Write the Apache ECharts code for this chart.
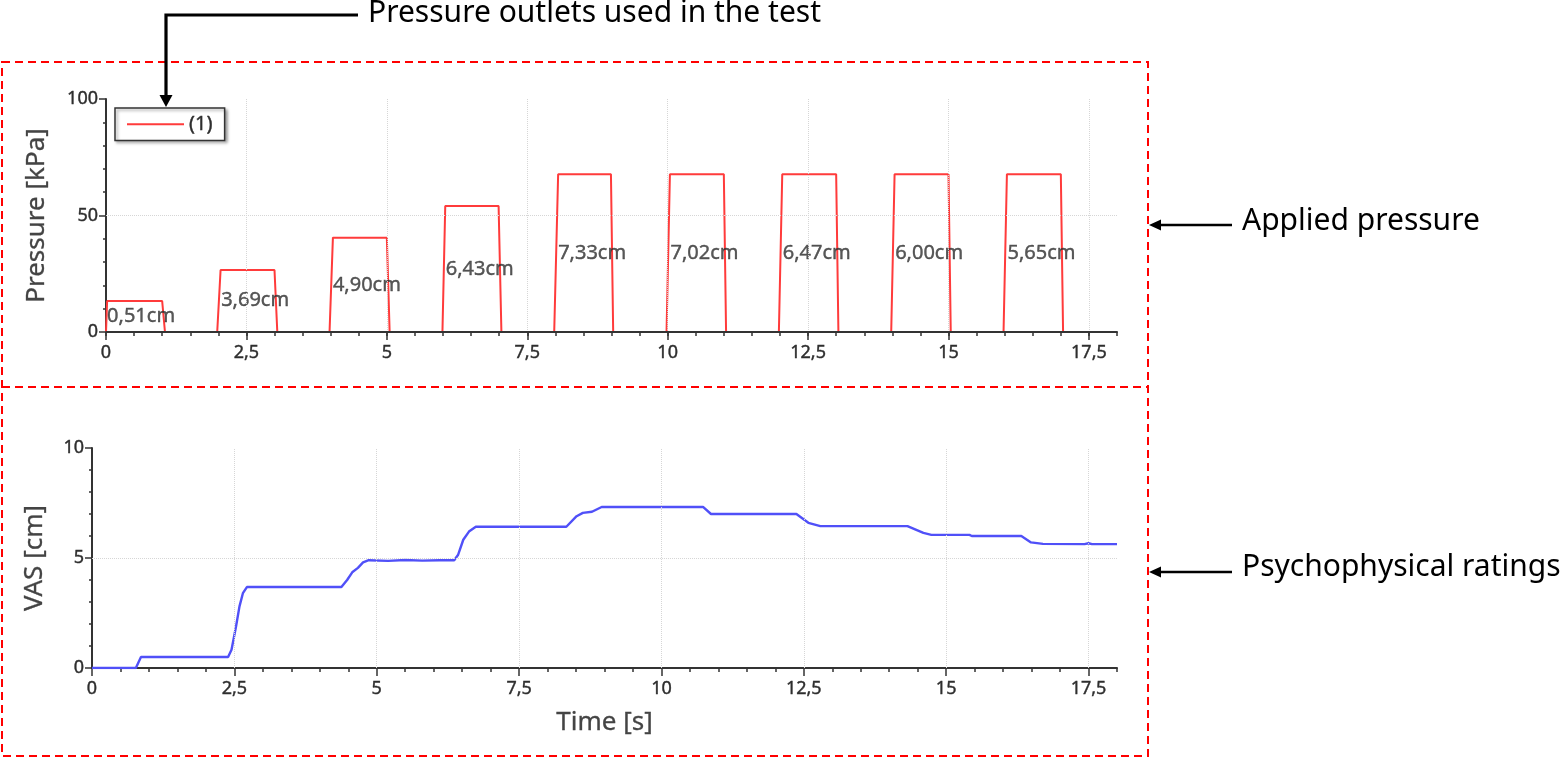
<!DOCTYPE html>
<html>
<head>
<meta charset="utf-8">
<title>Applied pressure and VAS ratings</title>
<script src="https://cdn.jsdelivr.net/npm/echarts@6/dist/echarts.min.js"></script>
<style>
  html, body { margin: 0; padding: 0; background: #fff; }
  #chart { width: 1563px; height: 758px; }
</style>
</head>
<body>
<div id="chart"></div>
<script>
// applied pressure, outlet (1)
var pressTime = [0, 0.02, 1.0, 1.05,
                 1.98, 2.04, 3.0, 3.05,
                 3.98, 4.04, 5.0, 5.05,
                 5.99, 6.04, 6.99, 7.04,
                 7.98, 8.05, 8.99, 9.03,
                 9.98, 10.04, 11.0, 11.04,
                 11.98, 12.04, 13.0, 13.04,
                 13.98, 14.04, 15.0, 15.04,
                 15.98, 16.04, 17.0, 17.04];
var pressKPa = [0, 13.3, 13.3, 0,
                0, 26.6, 26.6, 0,
                0, 40.5, 40.5, 0,
                0, 54.1, 54.1, 0,
                0, 67.7, 67.7, 0,
                0, 67.7, 67.7, 0,
                0, 67.7, 67.7, 0,
                0, 67.7, 67.7, 0,
                0, 67.7, 67.7, 0];

// VAS value written inside each pulse
var labelTime = [0.02, 2.05, 4.04, 6.05, 8.05, 10.05, 12.05, 14.05, 16.05];
var labelKPa = [6.6, 13.4, 20.2, 27, 33.8, 33.8, 33.8, 33.8, 33.8];
var labelText = ['0,51cm', '3,69cm', '4,90cm', '6,43cm', '7,33cm', '7,02cm', '6,47cm', '6,00cm', '5,65cm'];

// psychophysical rating
var vasTime = [0, 0.77, 0.86, 2.39, 2.45, 2.53, 2.59, 2.65, 2.72,
               4.38, 4.48, 4.57, 4.67, 4.76, 4.86, 5.2, 5.5, 5.8, 6.1, 6.36,
               6.43, 6.52, 6.62, 6.74, 8.33, 8.51, 8.62, 8.78, 8.95,
               10.73, 10.87, 12.37, 12.58, 12.79, 14.32, 14.6, 14.74,
               15.41, 15.45, 16.32, 16.49, 16.7, 17.43, 17.5, 17.56, 18.0];
var vasCm = [0, 0, 0.5, 0.5, 0.83, 1.9, 2.8, 3.4, 3.68,
             3.68, 4.0, 4.35, 4.55, 4.8, 4.9, 4.87, 4.91, 4.88, 4.9, 4.9,
             5.15, 5.83, 6.2, 6.42, 6.42, 6.9, 7.05, 7.1, 7.32,
             7.32, 7.0, 7.0, 6.6, 6.45, 6.45, 6.14, 6.05,
             6.05, 6.0, 6.0, 5.71, 5.64, 5.63, 5.67, 5.63, 5.63];

var majorTicks = [0, 2.5, 5, 7.5, 10, 12.5, 15, 17.5];
var pressGrid = [50];
var vasGrid = [5];

var chartFont = 'Noto Sans';
var noteFont = '30px "Noto Sans"';
var axisColor = '#333';
var textColor = '#2e2e2e';
var gridStyle = { color: '#d6d6d6', type: 'dotted', width: 1 };

function comma(v) {
    return String(v).replace('.', ',');
}

function pairs(xs, ys) {
    return xs.map(function (x, i) { return [x, ys[i]]; });
}

// dotted grid, only at the inner major ticks
function gridLines(yVals) {
    var d = [];
    majorTicks.forEach(function (v) { if (v > 0) d.push({ xAxis: v }); });
    yVals.forEach(function (v) { d.push({ yAxis: v }); });
    return {
        silent: true, symbol: 'none', animation: false,
        label: { show: false }, lineStyle: gridStyle,
        emphasis: { disabled: true }, data: d
    };
}

// axis with the short ticks every 0.5 s
function minorX(grid, z) {
    return {
        type: 'value', gridIndex: grid, position: 'bottom',
        min: 0, max: 18, interval: 0.5, z: z,
        axisLine: { lineStyle: { color: axisColor, width: 2 } },
        axisTick: { length: 4, lineStyle: { color: axisColor, width: 1.5 } },
        axisLabel: { show: false },
        splitLine: { show: false }
    };
}

// overlay axis with the long ticks and labels
function majorX(grid, extra) {
    var ax = {
        type: 'value', gridIndex: grid, position: 'bottom',
        min: 0, max: 18, interval: 2.5, z: 0,
        axisLine: { show: false },
        axisTick: { show: true, length: 8, customValues: majorTicks,
                    lineStyle: { color: axisColor, width: 1.5 } },
        axisLabel: { customValues: majorTicks, formatter: comma, margin: 12,
                     color: textColor, fontSize: 18, fontFamily: chartFont,
                     textBorderColor: textColor, textBorderWidth: 0.4 },
        splitLine: { show: false }
    };
    for (var k in extra) ax[k] = extra[k];
    return ax;
}

function yAx(grid, max, interval, name, gap) {
    return {
        type: 'value', gridIndex: grid, min: 0, max: max, interval: interval,
        name: name, nameLocation: 'middle', nameGap: gap,
        nameTextStyle: { fontSize: 26, color: '#444', fontFamily: chartFont,
                         textBorderColor: '#444', textBorderWidth: 0.3 },
        axisLine: { show: true, lineStyle: { color: axisColor, width: 2 } },
        axisTick: { show: true, length: 7, lineStyle: { color: axisColor, width: 1.5 } },
        minorTick: { show: true, splitNumber: 5, length: 3, lineStyle: { color: axisColor, width: 1.5 } },
        axisLabel: { formatter: comma, margin: 8, color: textColor, fontSize: 18, fontFamily: chartFont,
                     textBorderColor: textColor, textBorderWidth: 0.4 },
        splitLine: { show: false }
    };
}

var chart = echarts.init(document.getElementById('chart'));

var option = {
    animation: false,
    backgroundColor: '#fff',
    grid: [
        { left: 106, top: 99, width: 1011, height: 233 },
        { left: 92, top: 448, width: 1025, height: 220 }
    ],
    xAxis: [
        minorX(0, 5),
        majorX(0, {}),
        minorX(1, 0),
        majorX(1, { name: 'Time [s]', nameLocation: 'middle', nameGap: 42,
                    nameTextStyle: { fontSize: 26, color: '#444', fontFamily: chartFont,
                                     textBorderColor: '#444', textBorderWidth: 0.3 } })
    ],
    yAxis: [
        yAx(0, 100, 50, 'Pressure [kPa]', 56),
        yAx(1, 10, 5, 'VAS [cm]', 44)
    ],
    legend: {
        data: [{ name: '(1)', icon: 'rect' }],
        left: 115, top: 108,
        itemWidth: 57, itemHeight: 2, padding: [6, 12],
        backgroundColor: '#fff', borderColor: '#333', borderWidth: 1.5, borderRadius: 0,
        shadowColor: 'rgba(0,0,0,0.35)', shadowBlur: 3, shadowOffsetX: 2, shadowOffsetY: 2,
        textStyle: { fontSize: 20, color: textColor, fontFamily: chartFont,
                     textBorderColor: textColor, textBorderWidth: 0.4 },
        selectedMode: false
    },
    series: [
        {
            type: 'line', xAxisIndex: 0, yAxisIndex: 0, silent: true, z: 1,
            data: [], markLine: gridLines(pressGrid)
        },
        {
            name: '(1)', type: 'line', xAxisIndex: 0, yAxisIndex: 0,
            data: pairs(pressTime, pressKPa),
            symbol: 'none', z: 2,
            lineStyle: { color: '#ff3b3b', width: 2 },
            itemStyle: { color: '#ff3b3b' }
        },
        {
            type: 'scatter', xAxisIndex: 0, yAxisIndex: 0, silent: true, z: 3,
            symbolSize: 0,
            data: labelTime.map(function (t, i) {
                return { value: [t, labelKPa[i]], label: { formatter: labelText[i] } };
            }),
            label: { show: true, position: 'right', distance: 0,
                     color: textColor, fontSize: 20, fontFamily: chartFont,
                     textBorderColor: textColor, textBorderWidth: 0.4 }
        },
        {
            type: 'line', xAxisIndex: 2, yAxisIndex: 1, silent: true, z: 1,
            data: [], markLine: gridLines(vasGrid)
        },
        {
            name: 'VAS', type: 'line', xAxisIndex: 2, yAxisIndex: 1,
            data: pairs(vasTime, vasCm),
            symbol: 'none', z: 2,
            lineStyle: { color: '#5050f8', width: 2.4 }
        }
    ],
    graphic: [
        { type: 'rect', silent: true, shape: { x: 2, y: 62, width: 1146, height: 694 },
          style: { fill: null, stroke: '#ff0000', lineWidth: 2, lineDash: [8, 5] } },
        { type: 'line', silent: true, shape: { x1: 2, y1: 387, x2: 1148, y2: 387 },
          style: { stroke: '#ff0000', lineWidth: 2, lineDash: [8, 5] } },

        { type: 'polyline', silent: true, shape: { points: [[358, 15], [166, 15], [166, 97]] },
          style: { stroke: '#000', lineWidth: 3.2, fill: null } },
        { type: 'polygon', silent: true, shape: { points: [[159.5, 95], [172.5, 95], [166, 107]] },
          style: { fill: '#000' } },
        { type: 'text', silent: true,
          style: { text: 'Pressure outlets used in the test', x: 368, y: 13, font: noteFont,
                   fill: '#000', verticalAlign: 'middle' } },

        { type: 'line', silent: true, shape: { x1: 1232, y1: 225, x2: 1158, y2: 225 },
          style: { stroke: '#000', lineWidth: 2.6 } },
        { type: 'polygon', silent: true, shape: { points: [[1149, 225], [1161, 219.5], [1161, 230.5]] },
          style: { fill: '#000' } },
        { type: 'text', silent: true,
          style: { text: 'Applied pressure', x: 1242, y: 221, font: noteFont,
                   fill: '#000', verticalAlign: 'middle' } },

        { type: 'line', silent: true, shape: { x1: 1232, y1: 572, x2: 1158, y2: 572 },
          style: { stroke: '#000', lineWidth: 2.6 } },
        { type: 'polygon', silent: true, shape: { points: [[1149, 572], [1161, 566.5], [1161, 577.5]] },
          style: { fill: '#000' } },
        { type: 'text', silent: true,
          style: { text: 'Psychophysical ratings', x: 1242, y: 567, font: noteFont,
                   fill: '#000', verticalAlign: 'middle' } }
    ]
};

chart.setOption(option);
</script>
</body>
</html>
